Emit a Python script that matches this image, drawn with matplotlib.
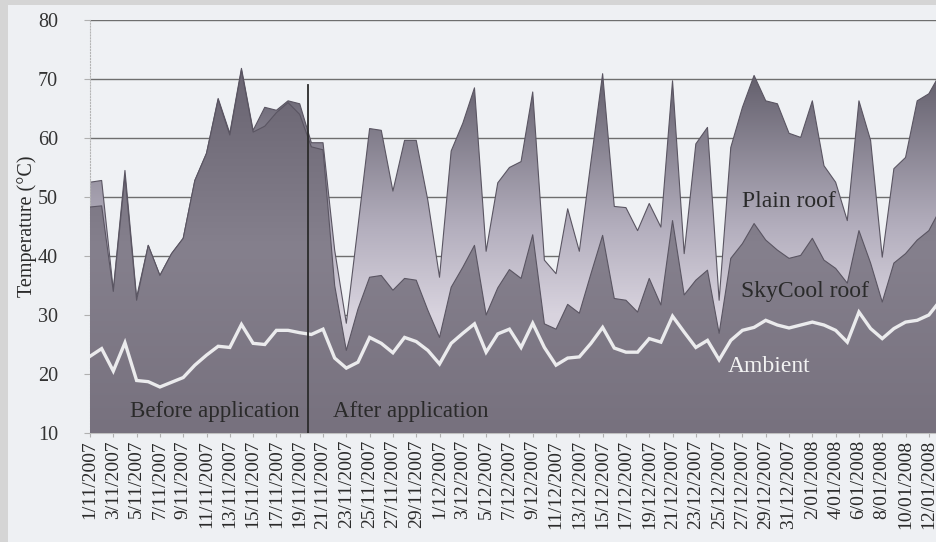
import datetime as dt

import numpy as np
import matplotlib

matplotlib.use("Agg")
import matplotlib.pyplot as plt
from matplotlib.colors import LinearSegmentedColormap
from matplotlib.patches import Polygon, Rectangle

# daily maximum temperatures, 1/11/2007 onwards
plain_roof = [52.5, 52.8, 34.2, 54.5, 33.0, 41.8, 36.7, 40.4, 43.0, 52.8,
              57.4, 66.7, 60.8, 71.8, 61.3, 65.2, 64.7, 66.3, 65.8, 59.2,
              59.2, 41.0, 28.6, 45.0, 61.6, 61.3, 51.0, 59.6, 59.6, 49.4,
              36.4, 57.8, 62.5, 68.5, 40.8, 52.4, 55.0, 56.0, 67.8, 39.3,
              37.0, 48.0, 40.8, 56.0, 70.9, 48.4, 48.2, 44.3, 48.9, 44.9,
              69.7, 40.4, 59.0, 61.8, 32.5, 58.4, 65.2, 70.6, 66.3, 65.8,
              60.8, 60.1, 66.3, 55.3, 52.5, 46.0, 66.3, 59.6, 39.8, 54.8,
              56.7, 66.3, 67.5, 71.0]
skycool_roof = [48.3, 48.5, 34.0, 53.5, 32.5, 41.8, 36.7, 40.4, 43.0, 52.8,
                57.4, 66.5, 60.5, 71.5, 61.0, 62.0, 64.3, 66.0, 64.0, 58.5,
                58.0, 35.0, 24.0, 31.0, 36.4, 36.7, 34.2, 36.2, 35.9, 30.8,
                26.2, 34.7, 38.1, 41.8, 30.0, 34.6, 37.7, 36.2, 43.6, 28.5,
                27.6, 31.8, 30.3, 37.0, 43.5, 32.8, 32.5, 30.5, 36.2, 31.7,
                46.0, 33.4, 35.9, 37.6, 26.9, 39.6, 42.1, 45.5, 42.7, 41.0,
                39.6, 40.1, 43.0, 39.3, 37.9, 35.4, 44.3, 38.8, 32.2, 38.8,
                40.4, 42.7, 44.3, 48.0]
ambient = [23.0, 24.3, 20.5, 25.3, 18.9, 18.7, 17.8, 18.6, 19.4, 21.5,
           23.2, 24.7, 24.5, 28.4, 25.2, 25.0, 27.4, 27.4, 27.0, 26.7,
           27.6, 22.7, 21.0, 22.0, 26.2, 25.2, 23.6, 26.2, 25.5, 24.0,
           21.7, 25.2, 26.9, 28.5, 23.7, 26.8, 27.6, 24.5, 28.6, 24.5,
           21.5, 22.7, 22.9, 25.2, 27.9, 24.4, 23.7, 23.7, 26.0, 25.4,
           29.8, 27.1, 24.5, 25.7, 22.4, 25.7, 27.4, 27.9, 29.1, 28.3,
           27.8, 28.3, 28.8, 28.3, 27.4, 25.4, 30.5, 27.7, 26.0, 27.7,
           28.8, 29.1, 30.0, 32.5]

start = dt.date(2007, 11, 1)
dates = [start + dt.timedelta(days=i) for i in range(len(plain_roof))]
tick_days = list(range(0, len(dates), 2))
tick_labels = [f"{dates[i].day}/{dates[i].month:02d}/{dates[i].year}" for i in tick_days]
application_day = 18.7

plt.rcParams["font.family"] = ["Liberation Serif", "DejaVu Serif"]

fig = plt.figure(figsize=(9.37, 5.42), dpi=100, facecolor="#d5d5d5")
fig.patches.append(Rectangle((8 / 937, 0), 1, 1 - 5 / 542, transform=fig.transFigure,
                             facecolor="#eef0f3", edgecolor="none", zorder=-10))

ax = fig.add_axes([90 / 937, 109 / 542, 847 / 937, 413 / 542])
ax.set_facecolor("#eff1f4")

days = np.arange(len(plain_roof))
x_end = 72.7

# gradient fills clipped to the area outlines
plain_cmap = LinearSegmentedColormap.from_list(
    "plain", [(0.0, "#ddd8e2"), (0.29, "#d8d3de"), (0.5, "#b3aebd"),
              (0.86, "#65616e"), (1.0, "#5d5966")])
sky_cmap = LinearSegmentedColormap.from_list(
    "sky", [(0.0, "#77717e"), (0.45, "#85808d"), (0.8, "#6e6976"), (1.0, "#68636f")])
grad = np.linspace(0, 1, 256).reshape(-1, 1)

for values, cmap, z in [(plain_roof, plain_cmap, 2), (skycool_roof, sky_cmap, 3)]:
    verts = [(0, 10)] + list(zip(days, values)) + [(days[-1], 10)]
    patch = Polygon(verts, closed=True, facecolor="none", edgecolor="none",
                    transform=ax.transData)
    ax.add_patch(patch)
    im = ax.imshow(grad, extent=[0, days[-1], 10, 80], origin="lower", aspect="auto",
                   cmap=cmap, zorder=z, interpolation="bilinear")
    im.set_clip_path(patch)
    ax.plot(days, values, color="#5a5562", lw=0.8, zorder=z + 0.1)

ax.plot(days, ambient, color="#ebebed", lw=2.4, zorder=5, solid_joinstyle="miter")
ax.plot([application_day, application_day], [10, 69], color="#2b2b2b", lw=1.3, zorder=6)

ax.text(3.4, 13.6, "Before application", fontsize=16.5, color="#2a2a2a", va="center", zorder=7)
ax.text(20.9, 13.7, "After application", fontsize=16.5, color="#2a2a2a", va="center", zorder=7)
ax.text(60.0, 49.3, "Plain roof", fontsize=17, color="#2a2a2a", ha="center", va="center", zorder=7)
ax.text(61.4, 34.0, "SkyCool roof", fontsize=17, color="#2a2a2a", ha="center", va="center", zorder=7)
ax.text(58.3, 21.3, "Ambient", fontsize=17, color="#f3f3f3", ha="center", va="center", zorder=7)

ax.set_xlim(0, x_end)
ax.set_ylim(10, 80)
ax.set_yticks(range(10, 81, 10))
ax.yaxis.grid(True, color="#6e6e6e", lw=1.0, zorder=1)
ax.set_axisbelow(True)
ax.set_xticks(tick_days)
ax.set_xticklabels(tick_labels, rotation=90, fontsize=14, color="#2a2a2a")
ax.tick_params(axis="y", labelsize=14.5, colors="#b0b0b0", labelcolor="#333333", length=4, pad=19)
ax.tick_params(axis="x", colors="#b0b0b0", labelcolor="#2a2a2a", length=3, pad=2)
ax.set_ylabel("Temperature (°C)", fontsize=14.5, color="#2a2a2a", labelpad=1)

for side in ["top", "right"]:
    ax.spines[side].set_visible(False)
ax.spines["left"].set_color("#b5b5b5")
ax.spines["left"].set_linestyle(":")
ax.spines["bottom"].set_color("#c0c0c0")

fig.savefig("out.png", dpi=100, facecolor=fig.get_facecolor())
